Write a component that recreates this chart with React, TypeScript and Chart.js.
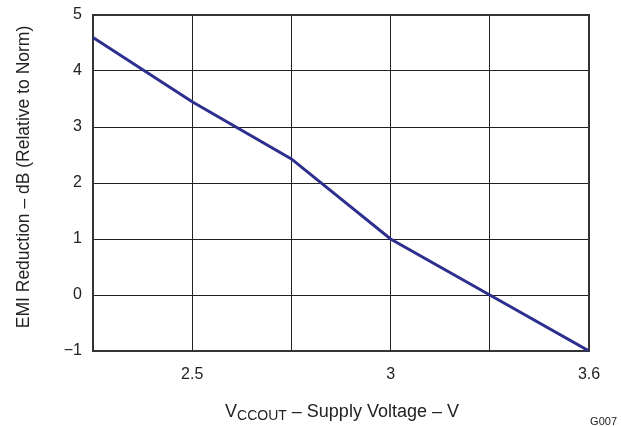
import React, { useEffect, useRef } from "react";
import { Chart, registerables } from "chart.js";

Chart.register(...registerables);

const xPositions = [2.25, 2.5, 2.75, 3.0, 3.25, 3.5];
const emiReduction = [4.6, 3.45, 2.43, 1.0, 0.0, -1.0];
const xGridValues = [2.25, 2.5, 2.75, 3.0, 3.25, 3.5];
const xTickLabels: Record<string, string> = { "2.5": "2.5", "3": "3", "3.5": "3.6" };
const yTickValues = [-1, 0, 1, 2, 3, 4, 5];
const yTickLabels = ["\u22121", "0", "1", "2", "3", "4", "5"];
const yTitle = "EMI Reduction \u2013 dB (Relative to Norm)";
const xTitleMain = "V";
const xTitleSub = "CCOUT";
const xTitleRest = " \u2013 Supply Voltage \u2013 V";
const figureId = "G007";

const FONT = "Arial, 'Liberation Sans', Helvetica, sans-serif";

const framePlugin = {
  id: "frame",
  beforeDatasetsDraw(chart: any) {
    const { ctx, chartArea: a } = chart;
    ctx.save();
    ctx.strokeStyle = "#333";
    ctx.lineWidth = 2;
    ctx.strokeRect(a.left, a.top, a.right - a.left, a.bottom - a.top);
    ctx.restore();
  },
};

const textPlugin = {
  id: "texts",
  afterDraw(chart: any) {
    const ctx = chart.ctx;
    ctx.save();
    ctx.fillStyle = "#222";
    ctx.font = `17.5px ${FONT}`;
    ctx.textAlign = "center";
    ctx.textBaseline = "middle";
    ctx.translate(24, 177);
    ctx.rotate(-Math.PI / 2);
    ctx.fillText(yTitle, 0, 0);
    ctx.restore();

    ctx.save();
    ctx.fillStyle = "#222";
    ctx.textBaseline = "alphabetic";
    ctx.textAlign = "left";
    const mainFont = `18px ${FONT}`;
    const subFont = `14px ${FONT}`;
    ctx.font = mainFont;
    const w1 = ctx.measureText(xTitleMain).width;
    const w3 = ctx.measureText(xTitleRest).width;
    ctx.font = subFont;
    const w2 = ctx.measureText(xTitleSub).width;
    const total = w1 + w2 + w3;
    const cx = 342;
    let x = cx - total / 2;
    const base = 417;
    ctx.font = mainFont;
    ctx.fillText(xTitleMain, x, base);
    x += w1;
    ctx.font = subFont;
    ctx.fillText(xTitleSub, x, base + 2.5);
    x += w2;
    ctx.font = mainFont;
    ctx.fillText(xTitleRest, x, base);

    ctx.font = `11px ${FONT}`;
    ctx.textAlign = "right";
    ctx.fillText(figureId, 617, 425);
    ctx.restore();
  },
};

export default function App() {
  const ref = useRef<HTMLCanvasElement>(null);
  useEffect(() => {
    document.body.style.margin = "0";
    const canvas = ref.current!;
    const chart = new Chart(canvas, {
      type: "line",
      data: {
        datasets: [
          {
            data: xPositions.map((x, i) => ({ x, y: emiReduction[i] })),
            borderColor: "#2c2f8e",
            borderWidth: 3,
            pointRadius: 0,
            tension: 0,
            fill: false,
          },
        ],
      },
      options: {
        animation: false,
        responsive: false,
        devicePixelRatio: 1,
        layout: { padding: { left: 0, right: 32, top: 15, bottom: 0 } },
        plugins: { legend: { display: false }, tooltip: { enabled: false } },
        scales: {
          x: {
            type: "linear",
            min: 2.25,
            max: 3.5,
            afterBuildTicks: (scale: any) => {
              scale.ticks = xGridValues.map((v) => ({ value: v }));
            },
            afterFit: (scale: any) => {
              scale.height = 76;
            },
            ticks: {
              autoSkip: false,
              maxRotation: 0,
              padding: 14,
              color: "#222",
              font: { family: FONT, size: 16 },
              callback: (v: any) => xTickLabels[String(Number(v))] ?? "",
            },
            grid: { color: "#222", lineWidth: 1, drawTicks: false },
            border: { color: "#333", width: 2 },
          },
          y: {
            type: "linear",
            min: -1,
            max: 5,
            afterBuildTicks: (scale: any) => {
              scale.ticks = yTickValues.map((v) => ({ value: v }));
            },
            afterFit: (scale: any) => {
              scale.width = 93;
              scale.paddingTop = 0;
            },
            ticks: {
              padding: 11,
              color: "#222",
              font: { family: FONT, size: 16, lineHeight: 1 },
              callback: (v: any) => yTickLabels[yTickValues.indexOf(Number(v))] ?? "",
            },
            grid: { color: "#222", lineWidth: 1, drawTicks: false },
            border: { color: "#333", width: 2 },
          },
        },
      } as any,
      plugins: [framePlugin, textPlugin],
    });
    return () => chart.destroy();
  }, []);
  return (
    <div style={{ width: 621, height: 427, position: "relative" }}>
      <canvas ref={ref} width={621} height={427} style={{ display: "block" }} />
    </div>
  );
}
